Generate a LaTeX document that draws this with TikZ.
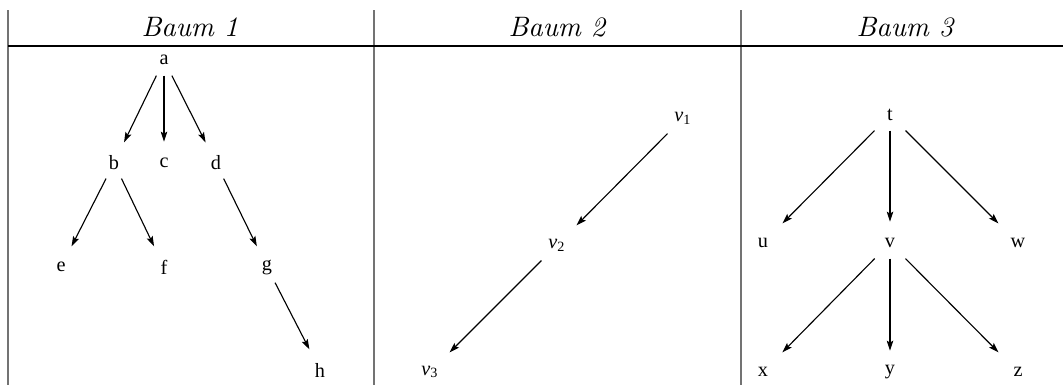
\documentclass[tikz,border=0pt]{standalone}
\usepackage{fontspec}
\newfontfamily\knotenfont{Liberation Serif}
\usetikzlibrary{arrows.meta}

\begin{document}
\begin{tikzpicture}[
  x=0.0125cm, y=-0.0125cm,
  >={Stealth[length=3.6pt, width=2.3pt, inset=0.7pt]},
  knoten/.style={inner sep=0pt, minimum width=12.8pt, minimum height=10.7pt, font=\knotenfont\fontsize{7.2}{8}\selectfont},
  kante/.style={->, line width=0.4pt, shorten >=2pt},
  titel/.style={font=\itshape},
  trenner/.style={line width=0.6pt, black!55},
  kopf/.style={line width=0.5pt}
]
\useasboundingbox (0,0) rectangle (1063,385);

% Tabellenrahmen
\coordinate (k1) at (8,10);
\coordinate (k2) at (374,10);
\coordinate (k3) at (741,10);
\draw[trenner] (k1) -- (8,385);
\draw[trenner] (k2) -- (374,385);
\draw[trenner] (k3) -- (741,385);
\draw[kopf] (8,46) -- (1063,46);

% Spaltentitel
\node[titel] (t1) at (190,27) {Baum 1};
\node[titel] (t2) at (557,27) {Baum 2};
\node[titel] (t3) at (905,27) {Baum 3};

% Baum 1
\node[knoten] (a) at (164,60) {a};
\node[knoten] (b) at (114,163) {b};
\node[knoten] (c) at (164,163) {c};
\node[knoten] (d) at (216,163) {d};
\node[knoten] (e) at (61,267) {e};
\node[knoten] (f) at (164,267) {f};
\node[knoten] (g) at (267,267) {g};
\node[knoten] (h) at (320,370) {h};

\foreach \s/\z in {a/b, a/c, a/d, b/e, b/f, d/g, g/h} {
  \draw[kante] (\s) -- (\z);
}

% Baum 2
\node[knoten] (v1) at (683,118) {\textit{v}\textsubscript{1}};
\node[knoten] (v2) at (557,245) {\textit{v}\textsubscript{2}};
\node[knoten] (v3) at (430,372) {\textit{v}\textsubscript{3}};

\draw[kante] (v1) -- (v2);
\draw[kante] (v2) -- (v3);

% Baum 3
\node[knoten] (t) at (890,115) {t};
\node[knoten] (u) at (763,243) {u};
\node[knoten] (v) at (890,243) {v};
\node[knoten] (w) at (1018,243) {w};
\node[knoten] (x) at (763,372) {x};
\node[knoten] (y) at (890,372) {y};
\node[knoten] (z) at (1018,372) {z};

\foreach \s/\z in {t/u, t/v, t/w, v/x, v/y, v/z} {
  \draw[kante] (\s) -- (\z);
}

\end{tikzpicture}
\end{document}
